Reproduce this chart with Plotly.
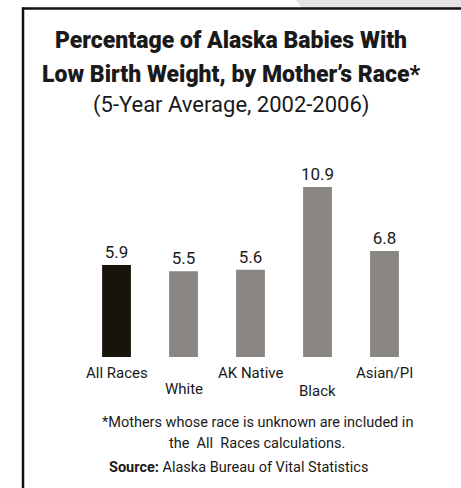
import plotly.graph_objects as go

races = ["All Races", "White", "AK Native", "Black", "Asian/PI"]
pct_low_weight = [5.9, 5.5, 5.6, 10.9, 6.8]
bar_colors = ["#19140b", "#8a8782", "#8a8782", "#8a8782", "#8a8782"]
label_drop = [5, 21, 5, 23, 5]

W, H = 461, 488
FONT = "Roboto, Liberation Sans Narrow, Arial Narrow, sans-serif"
INK = "#1a1a1a"


def px(x):
    return x / W


def py(y):
    return 1 - y / H


fig = go.Figure(
    go.Bar(
        x=races,
        y=pct_low_weight,
        marker=dict(color=bar_colors, line=dict(width=0)),
        text=[f"{v:.1f}" for v in pct_low_weight],
        textposition="outside",
        constraintext="none",
        textfont=dict(family=FONT, size=17, color=INK),
        cliponaxis=False,
        hoverinfo="x+y",
    )
)

for race, drop in zip(races, label_drop):
    fig.add_annotation(
        x=race, y=0, xref="x", yref="y", yanchor="top", yshift=-drop,
        text=race, showarrow=False, font=dict(family=FONT, size=15, color=INK),
    )

header = [
    ("Percentage of Alaska Babies With", 41, 23, 900),
    ("Low Birth Weight, by Mother\u2019s Race*", 74, 23, 900),
    ("(5-Year Average, 2002-2006)", 105, 22, 400),
]
for text, y, size, weight in header:
    fig.add_annotation(
        x=px(231), y=py(y), xref="paper", yref="paper", yanchor="middle",
        text=text, showarrow=False,
        font=dict(family=FONT, size=size, color=INK, weight=weight),
    )

footer = [
    ("*Mothers whose race is unknown are included in", 257, 422),
    ("the  All  Races calculations.", 257, 443),
    ("<b>Source:</b> Alaska Bureau of Vital Statistics", 238, 467),
]
for text, x, y in footer:
    fig.add_annotation(
        x=px(x), y=py(y), xref="paper", yref="paper", yanchor="middle",
        text=text, showarrow=False, font=dict(family=FONT, size=14.5, color=INK),
    )

# light grey corner behind the frame, then the frame itself
fig.add_shape(
    type="path", xref="paper", yref="paper", layer="below", line=dict(width=0),
    fillcolor="#e4e4e4",
    path=f"M {px(296)} {py(0)} L {px(461)} {py(0)} L {px(461)} {py(8)} L {px(302)} {py(8)} Z",
)
fig.add_shape(type="line", xref="paper", yref="paper", x0=px(22), x1=px(461),
              y0=py(8.5), y1=py(8.5), line=dict(color="#14120c", width=2.5))
fig.add_shape(type="line", xref="paper", yref="paper", x0=px(23), x1=px(23),
              y0=py(7.5), y1=py(488), line=dict(color="#14120c", width=2.5))

fig.update_layout(
    width=W,
    height=H,
    margin=dict(l=0, r=0, t=0, b=0, autoexpand=False),
    paper_bgcolor="white",
    plot_bgcolor="white",
    showlegend=False,
    bargap=0.57,
    xaxis=dict(domain=[px(83), px(418)], showticklabels=False, showgrid=False,
               zeroline=False, showline=False, ticks=""),
    yaxis=dict(domain=[py(357), py(150)], range=[0, 207 / 15.6], visible=False),
)

fig.write_html(
    "out.html",
    config={"displayModeBar": False},
    post_script="document.body.style.margin='0';",
)
